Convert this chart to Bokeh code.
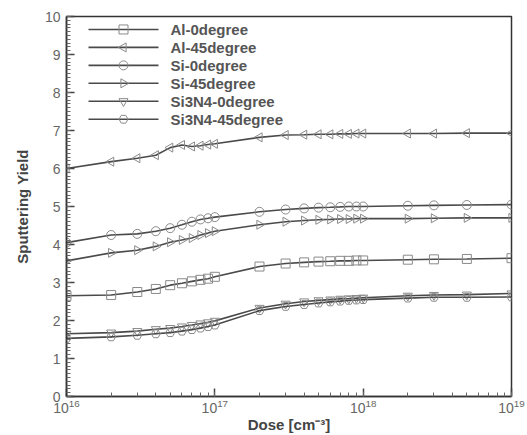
import math
from bokeh.plotting import figure
from bokeh.models import SingleIntervalTicker, Range1d, ColumnDataSource, LinearScale
from bokeh.core.properties import value
from bokeh.embed import file_html
from bokeh.resources import INLINE

dose = [1e16, 2e16, 3e16, 4e16, 5e16, 6e16, 7e16, 8e16, 9e16,
        1e17, 2e17, 3e17, 4e17, 5e17, 6e17, 7e17, 8e17, 9e17,
        1e18, 2e18, 3e18, 5e18, 1e19]

al_0 = [2.65, 2.67, 2.75, 2.83, 2.93, 2.98, 3.03, 3.07, 3.10, 3.15, 3.42, 3.50,
        3.53, 3.55, 3.56, 3.57, 3.57, 3.58, 3.58, 3.60, 3.61, 3.62, 3.64]
al_45 = [6.00, 6.18, 6.27, 6.35, 6.55, 6.62, 6.58, 6.60, 6.63, 6.65, 6.82, 6.88,
         6.89, 6.90, 6.90, 6.91, 6.91, 6.92, 6.92, 6.92, 6.92, 6.93, 6.93]
si_0 = [4.05, 4.25, 4.28, 4.35, 4.43, 4.52, 4.60, 4.66, 4.69, 4.72, 4.86, 4.92,
        4.95, 4.97, 4.98, 4.99, 5.00, 5.00, 5.00, 5.02, 5.03, 5.04, 5.05]
si_45 = [3.57, 3.78, 3.85, 3.95, 4.06, 4.12, 4.17, 4.25, 4.30, 4.35, 4.52, 4.60,
         4.63, 4.65, 4.66, 4.67, 4.67, 4.68, 4.68, 4.68, 4.69, 4.70, 4.70]
si3n4_0 = [1.65, 1.68, 1.72, 1.77, 1.80, 1.84, 1.88, 1.92, 1.95, 1.99, 2.33, 2.44,
           2.50, 2.53, 2.55, 2.57, 2.58, 2.59, 2.60, 2.65, 2.67, 2.68, 2.71]
si3n4_45 = [1.53, 1.57, 1.61, 1.65, 1.68, 1.72, 1.76, 1.80, 1.84, 1.88, 2.26, 2.37,
            2.42, 2.46, 2.49, 2.51, 2.53, 2.54, 2.55, 2.59, 2.61, 2.61, 2.62]

series_names = ["Al-0degree", "Al-45degree", "Si-0degree", "Si-45degree",
                "Si3N4-0degree", "Si3N4-45degree"]
series_values = [al_0, al_45, si_0, si_45, si3n4_0, si3n4_45]
markers = ["square", "triangle", "circle", "triangle", "inverted_triangle", "hex"]
angles = [0, math.pi / 2, 0, -math.pi / 2, 0, 0]

FONT = "Liberation Sans"
LINE_COLOR = "#4a4a4a"
MARK_COLOR = "#8a8a8a"

W, H = 527, 435
BL, BR, BT, BB = 66, 16, 16, 38
FW, FH = W - BL - BR, H - BT - BB

p = figure(width=W, height=H, x_axis_type="log",
           x_range=Range1d(1e16, 1e19), y_range=Range1d(0, 10),
           output_backend="svg", toolbar_location=None,
           min_border_left=BL, min_border_right=BR,
           min_border_top=BT, min_border_bottom=BB)
# pixel-unit ranges of the frame, used only for placing the legend
p.extra_x_ranges = {"px": Range1d(0, FW)}
p.extra_y_ranges = {"py": Range1d(0, FH)}
p.extra_x_scales = {"px": LinearScale()}
p.extra_y_scales = {"py": LinearScale()}

p.background_fill_color = "white"
p.border_fill_color = "white"
p.xgrid.visible = False
p.ygrid.visible = False
p.outline_line_color = "#333333"
p.outline_line_width = 1.5

for name, vals, mk, ang in zip(series_names, series_values, markers, angles):
    src = ColumnDataSource(dict(x=dose, y=vals))
    p.line("x", "y", source=src, line_color=LINE_COLOR, line_width=1.6)
    p.scatter("x", "y", source=src, marker=mk, angle=ang, size=9,
              line_color=MARK_COLOR, line_width=1, fill_alpha=0)

# legend (layout in frame pixels)
n = len(series_names)
row_y = [FH - 13 - 18 * i for i in range(n)]
lx0, lx1, ltext = 22, 92, 104
p.segment(x0=[lx0] * n, x1=[lx1] * n, y0=row_y, y1=row_y,
          x_range_name="px", y_range_name="py",
          line_color=LINE_COLOR, line_width=1.6)
for i, (mk, ang) in enumerate(zip(markers, angles)):
    p.scatter([(lx0 + lx1) / 2], [row_y[i]], marker=mk, angle=ang, size=9,
              line_color=MARK_COLOR, line_width=1, fill_alpha=0,
              x_range_name="px", y_range_name="py")
p.text(x=[ltext] * n, y=row_y, text=series_names,
       x_range_name="px", y_range_name="py",
       text_font=value(FONT), text_font_style="bold", text_font_size="15px",
       text_color="#555555", text_baseline="middle", text_align="left")

p.yaxis.ticker = SingleIntervalTicker(interval=1, num_minor_ticks=10)

for ax in (p.xaxis, p.yaxis):
    ax.axis_line_color = "#333333"
    ax.axis_line_width = 1.5
    ax.major_tick_in = 8
    ax.major_tick_out = 0
    ax.minor_tick_in = 4
    ax.minor_tick_out = 0
    ax.major_tick_line_color = "#444444"
    ax.minor_tick_line_color = "#666666"
    ax.major_tick_line_width = 1.5
    ax.major_label_text_font = FONT
    ax.major_label_text_font_size = "14px"
    ax.major_label_text_color = "#666666"
    ax.axis_label_text_font = FONT
    ax.axis_label_text_font_style = "bold"
    ax.axis_label_text_font_size = "15px"
    ax.axis_label_text_color = "#444444"

p.xaxis.axis_label = "Dose [cm\u207b\u00b3]"
p.yaxis.axis_label = "Sputtering Yield"
p.xaxis.major_label_standoff = 2
p.yaxis.major_label_standoff = 6
p.xaxis.axis_label_standoff = 0
p.yaxis.axis_label_standoff = 11

open("out.html", "w").write(file_html(p, INLINE))
